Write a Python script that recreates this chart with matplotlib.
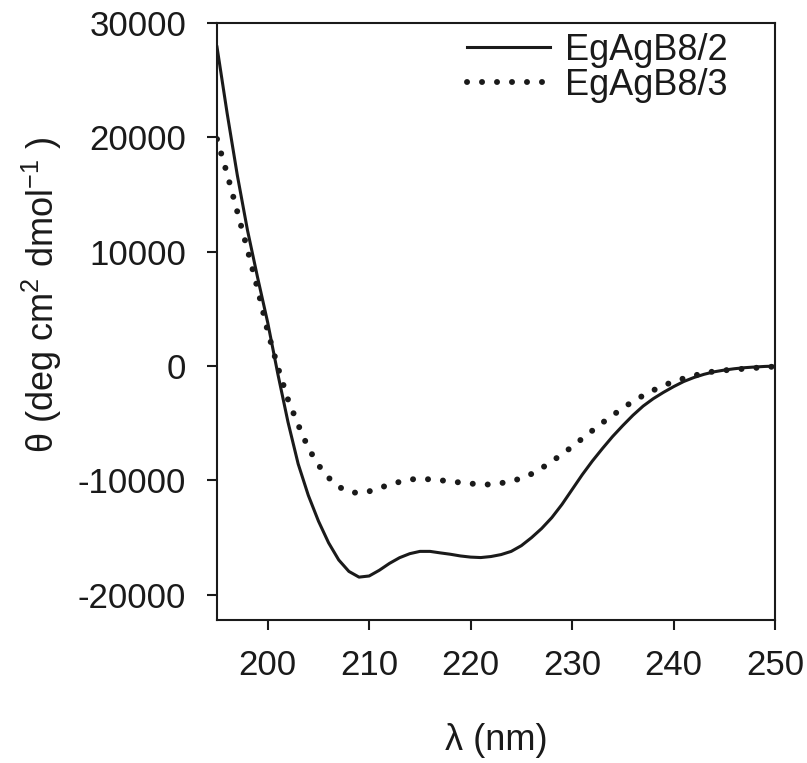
import matplotlib
matplotlib.use("Agg")
import matplotlib.pyplot as plt

plt.rcParams['font.family'] = ['Liberation Sans', 'DejaVu Sans']
plt.rcParams['mathtext.fontset'] = 'custom'
plt.rcParams['mathtext.rm'] = 'Liberation Sans'
plt.rcParams['mathtext.default'] = 'regular'
plt.rcParams['axes.unicode_minus'] = False

# wavelength (nm)
wavelength = list(range(195, 251))

# molar ellipticity
egagb8_2 = [27900, 22100, 16700, 11900, 7750, 3800, -700, -4900, -8550, -11300,
            -13550, -15450, -16950, -17950, -18450, -18350, -17850, -17250, -16750, -16400,
            -16200, -16200, -16330, -16450, -16600, -16700, -16740, -16650, -16480, -16200,
            -15700, -15000, -14200, -13250, -12100, -10800, -9500, -8300, -7200, -6150,
            -5200, -4300, -3500, -2850, -2300, -1800, -1350, -1000, -720, -500,
            -350, -230, -140, -80, -30, 0]
egagb8_3 = [19850, 16800, 13500, 10200, 6770, 3030, -100, -2930, -5130, -7160,
            -8660, -9760, -10550, -11000, -11100, -10950, -10650, -10380, -10120, -9910,
            -9860, -9900, -9980, -10080, -10180, -10270, -10350, -10350, -10230, -10080,
            -9800, -9430, -8930, -8330, -7720, -7050, -6340, -5640, -4950, -4300,
            -3680, -3080, -2580, -2120, -1700, -1360, -1080, -830, -630, -460,
            -370, -300, -230, -160, -100, -40]

fig = plt.figure(figsize=(8.07, 7.63), dpi=100)
ax = fig.add_axes([0.2689, 0.1874, 0.6914, 0.7825])

ax.plot(wavelength, egagb8_2, color='#1a1a1a', lw=2.2, label='EgAgB8/2')
ax.plot(wavelength, egagb8_3, color='#1a1a1a', lw=4.3, linestyle=(0, (0.01, 2.5)),
        dash_capstyle='round', label='EgAgB8/3')

ax.set_xlim(195, 250)
ax.set_ylim(-22200, 30000)
ax.set_xticks([200, 210, 220, 230, 240, 250])
ax.set_yticks([-20000, -10000, 0, 10000, 20000, 30000])

for s in ax.spines.values():
    s.set_linewidth(1.5)
    s.set_color('#1a1a1a')
ax.tick_params(axis='both', direction='out', length=7.2, width=1.5, labelsize=25,
               colors='#1a1a1a', top=False, right=False)
ax.tick_params(axis='x', pad=13.5)
ax.tick_params(axis='y', pad=15)

ax.set_xlabel('λ (nm)', fontsize=26, color='#1a1a1a')
ax.xaxis.set_label_coords(0.5, -0.172)
ax.set_ylabel('θ (deg cm$^{2}$ dmol$^{-1}$ )', fontsize=26, color='#1a1a1a')
ax.yaxis.set_label_coords(-0.274, 0.545)

leg = ax.legend(loc='upper right', bbox_to_anchor=(0.916, 0.983), frameon=False,
                fontsize=26, handlelength=2.3, handletextpad=0.42, labelspacing=0.0,
                borderpad=0, borderaxespad=0)
for t in leg.get_texts():
    t.set_color('#1a1a1a')

fig.savefig('out.png', dpi=100)
